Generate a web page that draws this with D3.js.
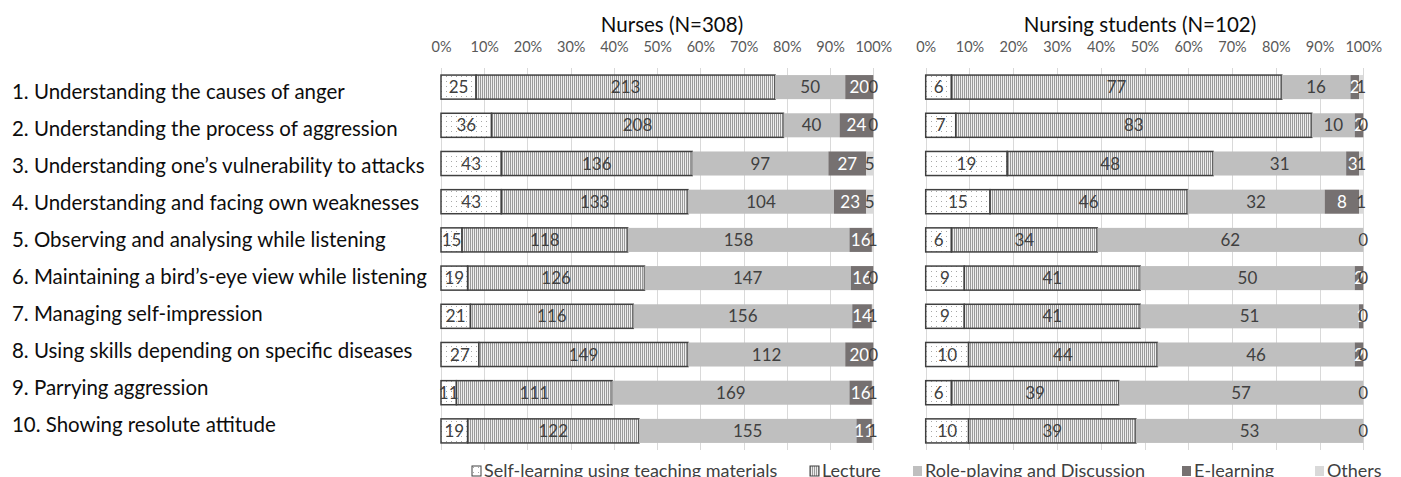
<!DOCTYPE html>
<html>
<head>
<meta charset="utf-8">
<script src="https://cdnjs.cloudflare.com/ajax/libs/d3/7.8.5/d3.min.js"></script>
<style>
body { margin: 0; background: #fff; }
svg { display: block; font-family: Lato, "Open Sans", sans-serif; }
</style>
</head>
<body>
<div id="vue"></div>
<script>
var items = [
  "1. Understanding the causes of anger",
  "2. Understanding the process of aggression",
  "3. Understanding one\u2019s vulnerability to attacks",
  "4. Understanding and facing own weaknesses",
  "5. Observing and analysing while listening",
  "6. Maintaining a bird\u2019s-eye view while listening",
  "7. Managing self-impression",
  "8. Using skills depending on specific diseases",
  "9. Parrying aggression",
  "10. Showing resolute attitude"
];
var methods = ["Self-learning using teaching materials", "Lecture", "Role-playing and Discussion", "E-learning", "Others"];

// counts per item: [self, lecture, role-play, e-learning, others]
var nurses = [
  [25, 213, 50, 20, 0],
  [36, 208, 40, 24, 0],
  [43, 136, 97, 27, 5],
  [43, 133, 104, 23, 5],
  [15, 118, 158, 16, 1],
  [19, 126, 147, 16, 0],
  [21, 116, 156, 14, 1],
  [27, 149, 112, 20, 0],
  [11, 111, 169, 16, 1],
  [19, 122, 155, 11, 1]
];
var students = [
  [6, 77, 16, 2, 1],
  [7, 83, 10, 2, 0],
  [19, 48, 31, 3, 1],
  [15, 46, 32, 8, 1],
  [6, 34, 62, 0, 0],
  [9, 41, 50, 2, 0],
  [9, 41, 51, 1, 0],
  [10, 44, 46, 2, 0],
  [6, 39, 57, 0, 0],
  [10, 39, 53, 0, 0]
];
var tickValues = [0, 0.1, 0.2, 0.3, 0.4, 0.5, 0.6, 0.7, 0.8, 0.9, 1];

var width = 1401, height = 477;
var plotTop = 68, plotBottom = 450;

var svg = d3.select("#vue").append("svg")
  .attr("width", width)
  .attr("height", height);

svg.append("rect").attr("width", width).attr("height", height).attr("fill", "#fff");

// motifs (points et hachures)
var defs = svg.append("defs");
var dots = defs.append("pattern").attr("id", "dots")
  .attr("patternUnits", "userSpaceOnUse").attr("width", 5).attr("height", 5);
dots.append("rect").attr("width", 5).attr("height", 5).attr("fill", "#fff");
dots.append("rect").attr("x", 1).attr("y", 1).attr("width", 1).attr("height", 1).attr("fill", "#a8a8a8");
var stripes = defs.append("pattern").attr("id", "stripes")
  .attr("patternUnits", "userSpaceOnUse").attr("width", 2).attr("height", 4);
stripes.append("rect").attr("width", 2).attr("height", 4).attr("fill", "#eeeeee");
stripes.append("rect").attr("width", 1).attr("height", 4).attr("fill", "#9a9a9a");

var fills = ["url(#dots)", "url(#stripes)", "#bfbfbf", "#767171", "#d9d9d9"];
var strokes = ["#404040", "#404040", "none", "none", "none"];
var labelColors = ["#404040", "#404040", "#404040", "#ffffff", "#404040"];

var y = d3.scaleBand().domain(items).range([plotTop, plotBottom]).paddingInner(0.37).paddingOuter(0.185);
var labelY = d3.scalePoint().domain(items).range([92, 425]);

// libellés des lignes
var rowLabels = svg.append("g").selectAll("text")
  .data(items).enter().append("text")
  .attr("x", 12)
  .attr("y", function (d) { return labelY(d); })
  .attr("dy", "0.35em")
  .attr("fill", "#0d0d0d")
  .style("font-size", "20px")
  .text(function (d) { return d; });
var maxw = d3.max(rowLabels.nodes(), function (n) { return n.getComputedTextLength(); });
rowLabels.style("font-size", (20 * 415 / maxw) + "px");

var panels = [
  { title: "Nurses (N=308)", data: nurses, x0: 441, x1: 873.3, titleX: 672 },
  { title: "Nursing students (N=102)", data: students, x0: 925.7, x1: 1363.3, titleX: 1140 }
];

var stack = d3.stack()
  .keys(d3.range(methods.length))
  .value(function (d, k) { return d[k]; })
  .offset(d3.stackOffsetExpand);

panels.forEach(function (p) {
  var x = d3.scaleLinear().domain([0, 1]).range([p.x0, p.x1]);
  var g = svg.append("g");

  g.append("text")
    .attr("x", p.titleX).attr("y", 25).attr("dy", "0.35em")
    .attr("text-anchor", "middle")
    .attr("fill", "#0d0d0d")
    .style("font-size", "20.5px")
    .text(p.title);

  // grille verticale
  g.append("g").selectAll("line")
    .data(tickValues).enter().append("line")
    .attr("x1", function (d) { return Math.round(x(d)) + 0.5; })
    .attr("x2", function (d) { return Math.round(x(d)) + 0.5; })
    .attr("y1", plotTop).attr("y2", plotBottom)
    .attr("stroke", "#d9d9d9").attr("stroke-width", 1);

  // axe du haut
  var axis = g.append("g")
    .attr("transform", "translate(0,47)")
    .call(d3.axisTop(x).tickValues(tickValues).tickFormat(d3.format(".0%")).tickSize(0).tickPadding(0));
  axis.select(".domain").remove();
  axis.selectAll("text")
    .attr("dy", "0.35em")
    .attr("fill", "#595959")
    .style("font-family", "Lato, 'Open Sans', sans-serif")
    .style("font-size", "14.5px");

  var table = p.data.map(function (r, i) { var o = r.slice(); o.item = items[i]; return o; });
  var series = stack(table);

  series.forEach(function (s, k) {
    g.append("g").selectAll("rect")
      .data(s).enter().append("rect")
      .attr("x", function (d) { return x(d[0]); })
      .attr("y", function (d) { return y(d.data.item); })
      .attr("width", function (d) { return x(d[1]) - x(d[0]); })
      .attr("height", y.bandwidth())
      .attr("fill", fills[k])
      .attr("stroke", strokes[k])
      .attr("stroke-width", 1.5);
  });

  series.forEach(function (s, k) {
    g.append("g").selectAll("text")
      .data(s).enter().append("text")
      .attr("x", function (d) { return (x(d[0]) + x(d[1])) / 2; })
      .attr("y", function (d) { return y(d.data.item) + y.bandwidth() / 2; })
      .attr("dy", "0.36em")
      .attr("text-anchor", "middle")
      .attr("fill", labelColors[k])
      .style("font-size", "17px")
      .text(function (d) { return d.data[k]; });
  });
});

// légende
var legendX = [472, 810, 913, 1182, 1315];
var legend = svg.append("g").selectAll("g")
  .data(methods).enter().append("g")
  .attr("transform", function (d, i) { return "translate(" + legendX[i] + ",471)"; });
legend.append("rect")
  .attr("x", 0).attr("y", -5).attr("width", 9).attr("height", 10)
  .attr("fill", function (d, i) { return fills[i]; })
  .attr("stroke", function (d, i) { return strokes[i]; })
  .attr("stroke-width", 1);
legend.append("text")
  .attr("x", 12).attr("y", 0).attr("dy", "0.35em")
  .attr("fill", "#404040")
  .style("font-size", "18px")
  .text(function (d) { return d; });
</script>
</body>
</html>
